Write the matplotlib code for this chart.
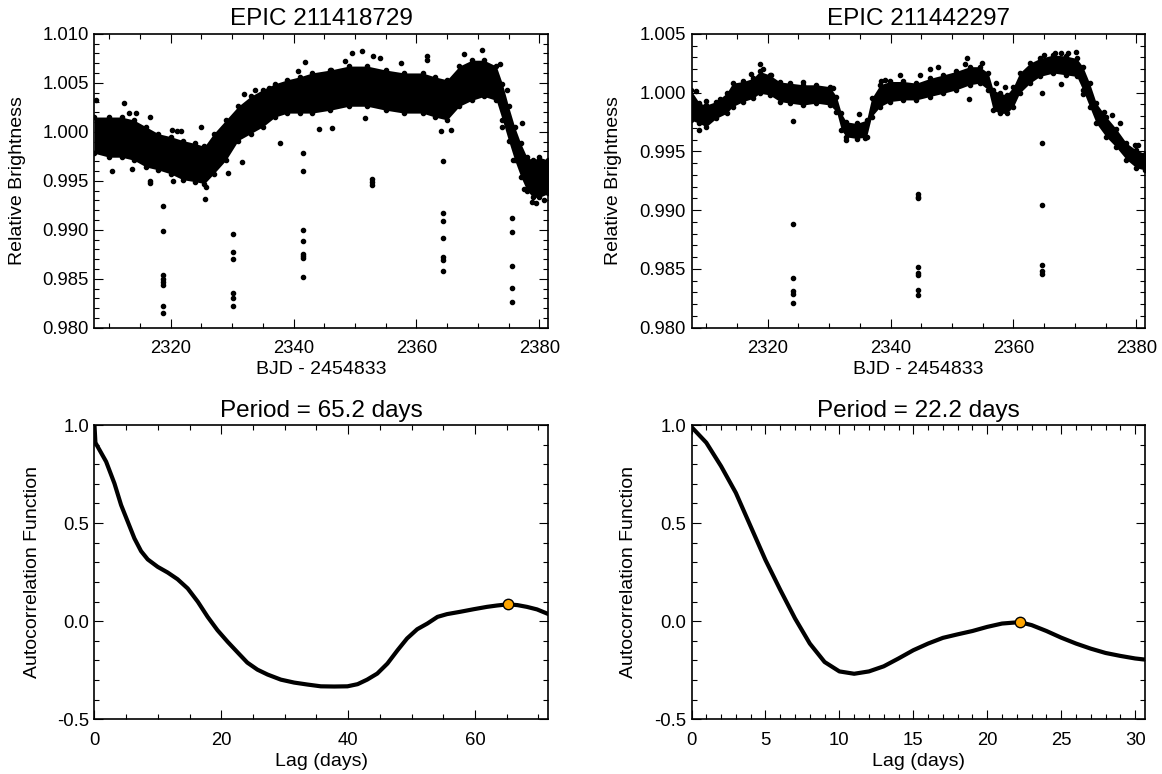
import matplotlib
matplotlib.use('Agg')
from matplotlib import pyplot as plt
from matplotlib.ticker import MultipleLocator, FormatStrFormatter

plt.rcParams['font.family'] = ['Liberation Sans', 'DejaVu Sans']
plt.rcParams['axes.unicode_minus'] = False

# ---- EPIC 211418729 light curve ----
# upper / lower edges of the dense band of points
t1_band = [2307.6, 2310, 2312, 2314, 2316, 2318, 2320, 2322, 2324, 2325.5,
           2327, 2329, 2331, 2333, 2335, 2337, 2339, 2341, 2343, 2346,
           2349, 2352, 2355, 2358, 2361, 2363, 2365, 2367, 2369, 2371,
           2373, 2374, 2375, 2376, 2377, 2378, 2379, 2380, 2381.5]
f1_hi = [1.0015, 1.0015, 1.0015, 1.0012, 1.0005, 0.9998, 0.9995, 0.9991, 0.9988, 0.9985,
         0.9998, 1.0012, 1.0026, 1.0036, 1.0043, 1.0049, 1.0053, 1.0056, 1.0060, 1.0063,
         1.0067, 1.0067, 1.0063, 1.0060, 1.0060, 1.0056, 1.0053, 1.0067, 1.0073, 1.0073,
         1.0067, 1.0049, 1.0026, 1.0005, 0.9988, 0.9974, 0.9971, 0.9974, 0.9971]
f1_lo = [0.9978, 0.9974, 0.9974, 0.9971, 0.9964, 0.9961, 0.9957, 0.9951, 0.9949, 0.9947,
         0.9957, 0.9971, 0.9991, 0.9998, 1.0005, 1.0015, 1.0019, 1.0019, 1.0019, 1.0022,
         1.0026, 1.0026, 1.0022, 1.0019, 1.0019, 1.0015, 1.0012, 1.0026, 1.0032, 1.0036,
         1.0032, 1.0012, 0.9991, 0.9971, 0.9954, 0.9940, 0.9933, 0.9933, 0.9937]
# scattered points off the band
t1_out = [2307.8, 2312.35, 2313.3, 2314.4, 2316.6, 2320.2, 2321.1, 2321.7, 2324.9, 2331.9,
          2333.7, 2336.0, 2340.8, 2341.8, 2346.1, 2348.4, 2349.5, 2351.1, 2353.0, 2354.0,
          2357.5, 2361.7, 2361.7, 2367.8, 2370.7, 2373.6, 2374.8, 2377.2,
          2310.4, 2313.7, 2316.7, 2316.7, 2320.4, 2325.6, 2325.8, 2329.4, 2331.6, 2337.8,
          2344.2, 2346.2, 2351.6, 2364.0, 2365.7, 2373.9, 2375.7, 2377.5, 2378.9, 2379.5, 2380.7]
f1_out = [1.0032, 1.0029, 1.0019, 1.0019, 1.0015, 1.0002, 1.0001, 1.0001, 1.0005, 1.0039,
          1.0043, 1.0045, 1.0062, 1.0071, 1.0063, 1.0072, 1.0080, 1.0082, 1.0077, 1.0075,
          1.0070, 1.0077, 1.0073, 1.0079, 1.0083, 1.0069, 1.0043, 1.0009,
          0.9960, 0.9962, 0.9950, 0.9948, 0.9950, 0.9931, 0.9944, 0.9958, 0.9969, 0.9989,
          1.0003, 1.0004, 1.0014, 1.0001, 1.0002, 1.0005, 0.9971, 0.9942, 0.9928, 0.9927, 0.9930]
# low points in the dips
t1_dip = [2318.7, 2318.7, 2318.7, 2318.7, 2318.7, 2318.7, 2318.7, 2318.7,
          2330.1, 2330.1, 2330.1, 2330.1, 2330.1, 2330.1,
          2341.6, 2341.6, 2341.6, 2341.6, 2341.6, 2341.6, 2341.6, 2341.6,
          2352.8, 2352.8, 2352.8,
          2364.3, 2364.3, 2364.3, 2364.3, 2364.3, 2364.3, 2364.3,
          2375.6, 2375.6, 2375.6, 2375.6, 2375.6]
f1_dip = [0.9924, 0.9899, 0.9854, 0.9850, 0.9847, 0.9844, 0.9822, 0.9815,
          0.9896, 0.9877, 0.9870, 0.9835, 0.9830, 0.9822,
          0.99785, 0.9960, 0.9900, 0.9888, 0.9875, 0.9873, 0.9871, 0.98515,
          0.99522, 0.9949, 0.99454,
          0.9970, 0.9917, 0.99085, 0.9892, 0.9872, 0.98696, 0.9858,
          0.9912, 0.98976, 0.9863, 0.9841, 0.9826]

# ---- EPIC 211442297 light curve ----
t2_band = [2307.5, 2308.9, 2310.0, 2311.6, 2313.3, 2314.3, 2316.0, 2317.6, 2318.7, 2320.3,
           2322.0, 2323.6, 2325.8, 2327.9, 2330.1, 2331.2, 2332.0, 2332.8, 2334.5, 2336.1,
           2336.9, 2338.3, 2339.9, 2342.1, 2344.2, 2346.4, 2348.6, 2350.7, 2352.9, 2354.5,
           2355.9, 2356.7, 2357.8, 2358.9, 2360.0, 2361.0, 2362.7, 2364.3, 2366.5, 2368.6,
           2370.3, 2371.3, 2372.4, 2373.5, 2375.1, 2376.7, 2378.4, 2380.0, 2381.5]
f2_hi = [1.0002, 0.99909, 0.99894, 0.99923, 0.99994, 1.0008, 1.00094, 1.0012, 1.0018, 1.0015,
         1.0009, 1.0008, 1.00066, 1.00066, 1.0005, 0.99966, 0.99823, 0.99751, 0.99737, 0.99766,
         0.9995, 1.00066, 1.00094, 1.00094, 1.0008, 1.0012, 1.0015, 1.0018, 1.0022, 1.0022,
         1.00166, 1.00023, 0.99994, 0.9998, 1.0005, 1.00166, 1.0025, 1.0029, 1.0032, 1.0031,
         1.0029, 1.0022, 1.0008, 0.99909, 0.99794, 0.99694, 0.9957, 0.9951, 0.9948]
f2_lo = [0.99766, 0.99737, 0.99709, 0.9978, 0.99823, 0.9988, 0.99923, 0.9995, 0.99994, 0.9998,
         0.99923, 0.9991, 0.99894, 0.9991, 0.99894, 0.99837, 0.9968, 0.99623, 0.99609, 0.99623,
         0.99794, 0.9988, 0.99923, 0.99937, 0.99937, 0.99966, 0.99994, 1.00023, 1.00066, 1.0008,
         1.00023, 0.99851, 0.99823, 0.99823, 0.9988, 0.99994, 1.0008, 1.00137, 1.00166, 1.0015,
         1.00137, 1.00023, 0.9988, 0.99737, 0.99623, 0.99537, 0.9943, 0.9936, 0.9934]
t2_out = [2308.4, 2309.9, 2308.9, 2312.3, 2317.3, 2318.8, 2319.3, 2320.6, 2325.8, 2330.6,
          2332.8, 2334.8, 2335.9, 2338.4, 2339.1, 2341.5, 2344.8, 2346.4, 2347.7, 2352.4,
          2352.2, 2354.9, 2352.7, 2357.2, 2358.6, 2364.9, 2366.7, 2367.8, 2368.9, 2370.2,
          2367.8, 2371.3, 2374.8, 2376.1, 2377.3, 2379.8, 2380.2]
f2_out = [1.0001, 0.99931, 0.9968, 0.99946, 1.0016, 1.00246, 1.0020, 1.0015, 1.0009, 1.0004,
          0.9960, 0.9982, 0.9961, 1.0010, 1.0011, 1.00146, 1.00146, 1.0020, 1.00217, 1.0029,
          1.00246, 1.0025, 0.99946, 1.0008, 1.0005, 1.0032, 1.00337, 1.00337, 1.00337, 1.00343,
          1.00074, 0.9999, 0.99837, 0.9981, 0.9974, 0.99551, 0.9955]
t2_dip = [2324.1, 2324.1, 2324.1, 2324.1, 2324.1, 2324.1,
          2344.4, 2344.4, 2344.4, 2344.4, 2344.4, 2344.4, 2344.4, 2344.4,
          2364.6, 2364.6, 2364.6, 2364.6, 2364.6, 2364.6]
f2_dip = [0.99759, 0.98878, 0.9842, 0.9831, 0.9829, 0.98213,
          0.99134, 0.99114, 0.9910, 0.98517, 0.98466, 0.98446, 0.98324, 0.9828,
          1.0000, 0.99568, 0.99043, 0.98537, 0.9848, 0.9846]

# ---- autocorrelation functions ----
lag1 = [0, 0.15, 1.84, 3.15, 4.2, 5.25, 6.3, 7.35, 8.4, 9.97, 11.55, 13.1, 14.7, 16.3,
        17.85, 19.4, 21.0, 22.6, 24.1, 25.7, 27.3, 29.4, 31.5, 33.6, 35.7, 37.8, 39.9,
        41.5, 43.0, 44.6, 46.2, 47.8, 49.3, 50.9, 52.5, 54.1, 55.6, 57.7, 59.8, 61.9,
        63.5, 65.2, 66.7, 68.2, 69.8, 71.6]
acf1 = [1.0, 0.91, 0.813, 0.702, 0.592, 0.507, 0.422, 0.357, 0.315, 0.277, 0.248, 0.214,
        0.167, 0.099, 0.022, -0.046, -0.105, -0.160, -0.211, -0.247, -0.272, -0.298,
        -0.313, -0.323, -0.332, -0.333, -0.332, -0.321, -0.298, -0.267, -0.216, -0.148,
        -0.088, -0.041, -0.012, 0.022, 0.036, 0.048, 0.061, 0.073, 0.080, 0.086, 0.082,
        0.073, 0.060, 0.036]
period1 = 65.2
peak1 = 0.086

lag2 = [0, 1, 2, 3, 4, 5, 6, 7, 8, 9, 10, 11, 12, 13, 14, 15, 16, 17, 18, 19, 20, 21, 22,
        22.2, 23, 24, 25, 26, 27, 28, 29, 30, 30.7]
acf2 = [0.99, 0.91, 0.79, 0.654, 0.483, 0.312, 0.16, 0.014, -0.114, -0.208, -0.256, -0.268,
        -0.256, -0.23, -0.19, -0.148, -0.114, -0.085, -0.067, -0.05, -0.029, -0.012, -0.006,
        -0.005, -0.02, -0.05, -0.084, -0.114, -0.14, -0.162, -0.177, -0.19, -0.196]
period2 = 22.2
peak2 = -0.005


def idl_axes(ax, xmaj, xmin, ymaj, ymin, yfmt):
    ax.xaxis.set_major_locator(MultipleLocator(xmaj))
    ax.xaxis.set_minor_locator(MultipleLocator(xmin))
    ax.yaxis.set_major_locator(MultipleLocator(ymaj))
    ax.yaxis.set_minor_locator(MultipleLocator(ymin))
    ax.yaxis.set_major_formatter(FormatStrFormatter(yfmt))
    ax.tick_params(which='both', direction='in', top=True, right=True, width=0.8)
    ax.tick_params(which='major', length=6.5, labelsize=13.3)
    ax.tick_params(which='minor', length=3.4)
    ax.tick_params(axis='x', which='major', pad=9)
    ax.tick_params(axis='y', which='major', pad=4)
    for s in ax.spines.values():
        s.set_linewidth(1.2)


def light_curve(ax, title, tb, hi, lo, to, fo, td, fd, ylim, ylabx):
    ax.fill_between(tb, lo, hi, color='black', linewidth=0)
    ax.plot(tb, hi, 'o', color='black', ms=3)
    ax.plot(tb, lo, 'o', color='black', ms=3)
    ax.plot(to, fo, 'o', color='black', ms=3)
    ax.plot(td, fd, 'o', color='black', ms=3)
    ax.set_xlim(2307.6, 2381.5)
    ax.set_ylim(*ylim)
    idl_axes(ax, 20, 5, 0.005, 0.001, '%.3f')
    ax.set_title(title, fontsize=17.5, pad=6)
    ax.set_xlabel('BJD - 2454833', fontsize=14, labelpad=3)
    ax.set_ylabel('Relative Brightness', fontsize=14)
    ax.yaxis.set_label_coords(ylabx, 0.5)


def acf_panel(ax, lag, acf, period, peak, xmax, xmaj, xmin, ylabx):
    ax.plot(lag, acf, color='black', linewidth=3, solid_joinstyle='round')
    ax.plot([period], [peak], 'o', color='#FFA500', markeredgecolor='black',
            markeredgewidth=1.0, ms=7.5)
    ax.set_xlim(0, xmax)
    ax.set_ylim(-0.5, 1.0)
    idl_axes(ax, xmaj, xmin, 0.5, 0.1, '%.1f')
    ax.set_title('Period = %.1f days' % period, fontsize=17.5, pad=6)
    ax.set_xlabel('Lag (days)', fontsize=14, labelpad=3)
    ax.set_ylabel('Autocorrelation Function', fontsize=14)
    ax.yaxis.set_label_coords(ylabx, 0.5)


fig = plt.figure(figsize=(11.62, 7.74), dpi=100)
ax1 = fig.add_axes([0.0813, 0.5766, 0.3907, 0.3798])
ax2 = fig.add_axes([0.5951, 0.5766, 0.3907, 0.3798])
ax3 = fig.add_axes([0.0813, 0.0707, 0.3907, 0.3802])
ax4 = fig.add_axes([0.5951, 0.0707, 0.3907, 0.3802])

light_curve(ax1, 'EPIC 211418729', t1_band, f1_hi, f1_lo, t1_out, f1_out,
            t1_dip, f1_dip, (0.980, 1.010), -0.151)
light_curve(ax2, 'EPIC 211442297', t2_band, f2_hi, f2_lo, t2_out, f2_out,
            t2_dip, f2_dip, (0.980, 1.005), -0.153)
acf_panel(ax3, lag1, acf1, period1, peak1, 71.6, 20, 5, -0.118)
acf_panel(ax4, lag2, acf2, period2, peak2, 30.7, 5, 1, -0.119)

fig.savefig('out.png', dpi=100)
